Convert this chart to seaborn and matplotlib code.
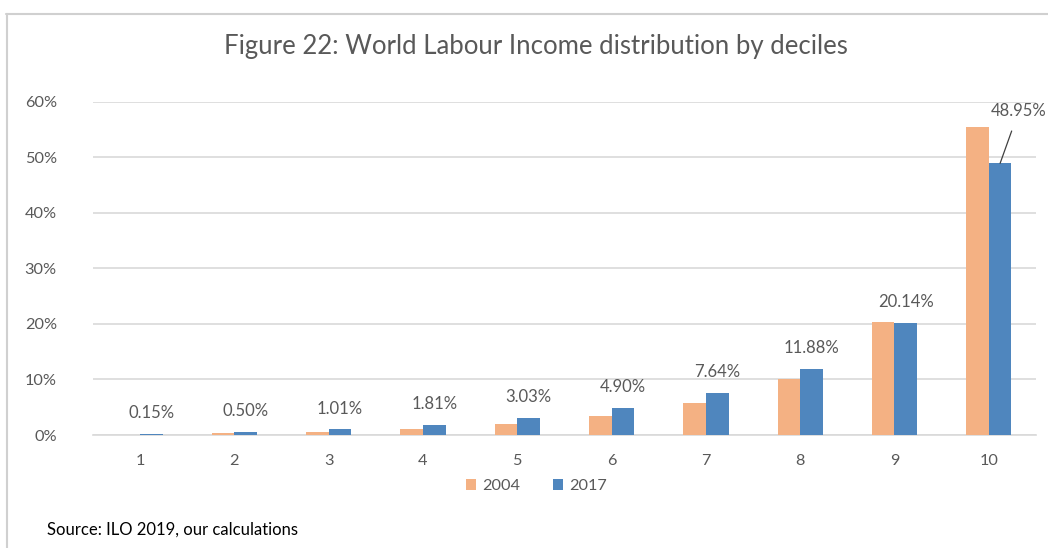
import matplotlib
matplotlib.use("Agg")
import matplotlib.pyplot as plt
from matplotlib.patches import Patch
from matplotlib.lines import Line2D
import pandas as pd
import seaborn as sns

# Share of world labour income by decile (%)
deciles = ["1", "2", "3", "4", "5", "6", "7", "8", "9", "10"]
share_2004 = [0.05, 0.30, 0.60, 1.10, 2.00, 3.40, 5.80, 10.10, 20.30, 55.50]
share_2017 = [0.15, 0.50, 1.01, 1.81, 3.03, 4.90, 7.64, 11.88, 20.14, 48.95]
years = ["2004", "2017"]
colors = ["#F4B183", "#4F86BE"]

df = pd.DataFrame({
    "decile": deciles * 2,
    "share": share_2004 + share_2017,
    "year": [years[0]] * len(deciles) + [years[1]] * len(deciles),
})

sns.set_theme(style="white")
plt.rcParams["font.family"] = ["Lato", "DejaVu Sans"]

grey = "#595959"
fig = plt.figure(figsize=(10.48, 5.48), dpi=100)
ax = fig.add_axes([0.0887, 0.2062, 0.8998, 0.6077])

sns.barplot(data=df, x="decile", y="share", hue="year", order=deciles,
            hue_order=years, palette=colors, width=0.48, gap=0,
            saturation=1, ax=ax, legend=False, zorder=3)
for p in ax.patches:
    p.set_edgecolor("none")

ax.set_xlim(-0.5, len(deciles) - 0.5)
ax.set_ylim(0, 60)
ax.set_yticks(range(0, 61, 10))
ax.set_yticklabels([f"{v}%" for v in range(0, 61, 10)])
ax.yaxis.grid(True, color="#D9D9D9", linewidth=1.2, zorder=0)
ax.set_axisbelow(True)
for side in ["top", "right", "left"]:
    ax.spines[side].set_visible(False)
ax.spines["bottom"].set_color("#D9D9D9")
ax.spines["bottom"].set_linewidth(1.2)
ax.tick_params(axis="both", length=0, labelsize=11.7, colors=grey)
ax.tick_params(axis="y", pad=26)
ax.tick_params(axis="x", pad=14)
ax.set_xlabel("")
ax.set_ylabel("")

# Value labels on the 2017 bars
bars_2017 = ax.containers[1]
for i, (bar, v) in enumerate(zip(bars_2017, share_2017)):
    cx = bar.get_x() + bar.get_width() / 2
    if i == len(share_2017) - 1:
        ax.annotate(f"{v:.2f}%", xy=(cx, v), xytext=(cx + 0.2, v + 9.5),
                    ha="center", va="center", fontsize=12, color=grey,
                    annotation_clip=False,
                    arrowprops=dict(arrowstyle="-", color="#404040", lw=0.9,
                                    shrinkA=7, shrinkB=0))
    else:
        ax.annotate(f"{v:.2f}%", xy=(cx, v), xytext=(0, 15),
                    textcoords="offset points", ha="center", va="center",
                    fontsize=12, color=grey)

handles = [Patch(facecolor=c, edgecolor="none") for c in colors]
fig.legend(handles, years, loc="center", bbox_to_anchor=(0.512, 0.113), ncol=2,
           frameon=False, fontsize=11.7, labelcolor=grey, handlelength=0.6,
           handleheight=0.6, handletextpad=0.4, columnspacing=2.0)

fig.text(0.511, 0.916, "Figure 22: World Labour Income distribution by deciles",
         ha="center", va="center", fontsize=18.5, color=grey)
fig.text(0.045, 0.033, "Source: ILO 2019, our calculations", ha="left",
         va="center", fontsize=12, color="black")

# Chart frame edges
fig.add_artist(Line2D([0.006, 1.0], [0.975, 0.975], color="#D0D0D0", lw=1.5))
fig.add_artist(Line2D([0.0065, 0.0065], [0.0, 0.975], color="#D0D0D0", lw=1.5))

fig.savefig("out.png", dpi=100)
